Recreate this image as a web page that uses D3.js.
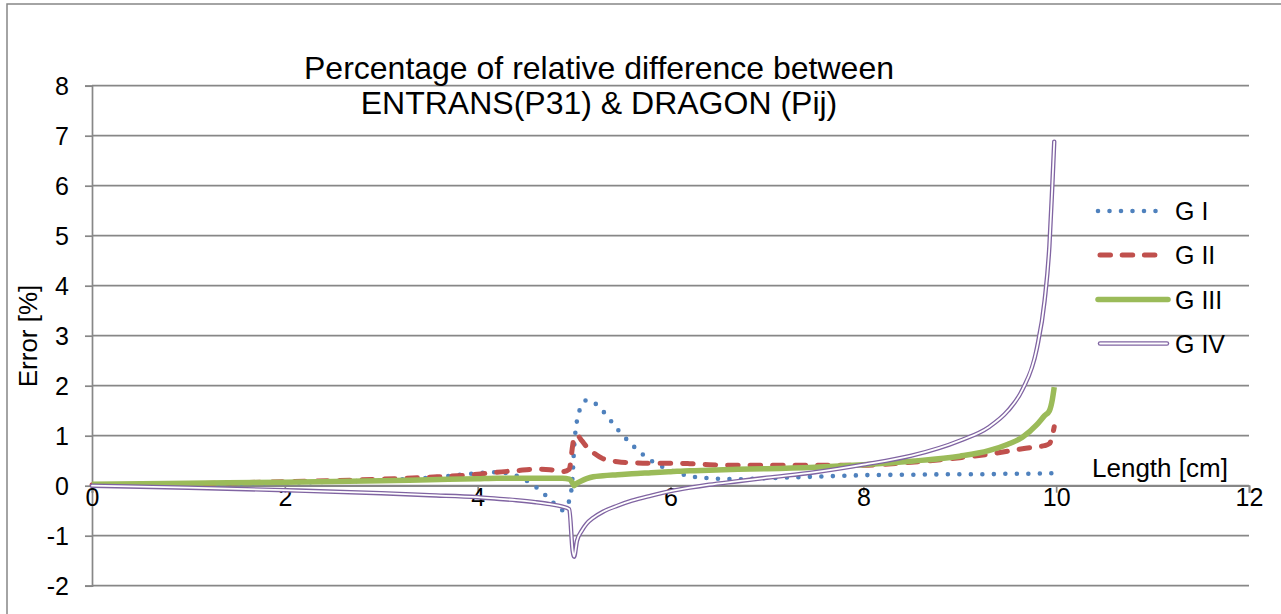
<!DOCTYPE html>
<html>
<head>
<meta charset="utf-8">
<script src="https://cdn.jsdelivr.net/npm/d3@7"></script>
<style>
html,body{margin:0;padding:0;background:#fff;}
svg{display:block;font-family:"Liberation Sans",Arial,sans-serif;}
</style>
</head>
<body>
<svg id="chart" width="1281" height="614"></svg>
<script>
// ---- data ----
const xValues = [0, 1, 2, 3, 3.5, 4, 4.2, 4.4, 4.6, 4.75, 4.88, 4.95, 4.985, 5.0, 5.03, 5.08, 5.13, 5.2, 5.3, 5.45, 5.6, 5.8, 6.0, 6.2, 6.4, 6.7, 7.0, 7.5, 8.0, 8.5, 9.0, 9.3, 9.5, 9.65, 9.8, 9.88, 9.93, 9.96, 9.98];
const gI   = [0.0, 0.03, 0.06, 0.11, 0.16, 0.25, 0.27, 0.2, -0.02, -0.27, -0.49, -0.3, 0.2, 0.75, 1.3, 1.6, 1.71, 1.67, 1.49, 1.13, 0.82, 0.5, 0.31, 0.19, 0.15, 0.13, 0.15, 0.18, 0.21, 0.22, 0.23, 0.23, 0.24, 0.24, 0.24, 0.25, 0.25, 0.25, 0.25];
const gII  = [0.02, 0.04, 0.08, 0.13, 0.17, 0.23, 0.27, 0.3, 0.33, 0.32, 0.28, 0.33, 0.8, 0.97, 1.01, 0.9, 0.78, 0.66, 0.54, 0.48, 0.46, 0.45, 0.45, 0.44, 0.42, 0.41, 0.41, 0.41, 0.41, 0.47, 0.56, 0.63, 0.69, 0.74, 0.78, 0.8, 0.84, 1.0, 1.18];
const gIII = [0.03, 0.05, 0.07, 0.1, 0.12, 0.14, 0.15, 0.15, 0.15, 0.15, 0.15, 0.13, 0.05, 0.0, 0.05, 0.1, 0.14, 0.18, 0.2, 0.22, 0.24, 0.26, 0.28, 0.3, 0.31, 0.33, 0.34, 0.37, 0.42, 0.49, 0.59, 0.7, 0.83, 0.97, 1.22, 1.4, 1.5, 1.72, 1.97];
const gIV  = [0.0, -0.04, -0.09, -0.15, -0.19, -0.23, -0.26, -0.29, -0.33, -0.37, -0.42, -0.47, -1.3, -1.42, -1.1, -0.9, -0.76, -0.64, -0.52, -0.4, -0.3, -0.2, -0.11, -0.04, 0.02, 0.09, 0.16, 0.27, 0.42, 0.6, 0.9, 1.17, 1.5, 1.92, 2.75, 3.7, 4.8, 6.0, 6.88];
const seriesNames = ["G I", "G II", "G III", "G IV"];
const xTicks = [0, 2, 4, 6, 8, 10, 12];
const yTicks = [-2, -1, 0, 1, 2, 3, 4, 5, 6, 7, 8];
const titleLines = ["Percentage of relative difference between", "ENTRANS(P31) & DRAGON (Pij)"];

// ---- drawing ----
const svg = d3.select("#chart");
const grey = "#878787";
const x = d3.scaleLinear().domain([0, 12]).range([92, 1249]);
const y = d3.scaleLinear().domain([-2, 8]).range([585.7, 85.7]);
const fmt = d => String(d); // plain hyphen-minus like the reference

// outer frame
svg.append("rect").attr("x", 7).attr("y", 4).attr("width", 1400).attr("height", 700)
  .attr("fill", "none").attr("stroke", grey).attr("stroke-width", 1.5);

// gridlines
svg.append("g").selectAll("line").data(yTicks).join("line")
  .attr("x1", x(0)).attr("x2", x(12))
  .attr("y1", d => y(d)).attr("y2", d => y(d))
  .attr("stroke", grey).attr("stroke-width", 1.7);

// y axis
const yAxis = svg.append("g").attr("transform", `translate(${x(0)},0)`)
  .call(d3.axisLeft(y).tickValues(yTicks).tickSize(7).tickPadding(0).tickFormat(fmt));
yAxis.select(".domain").attr("stroke", grey).attr("stroke-width", 1.7);
yAxis.selectAll(".tick line").attr("stroke", grey).attr("stroke-width", 1.7);
yAxis.selectAll("text").attr("x", -23).attr("dy", "0.36em")
  .attr("font-size", 25).attr("fill", "#000").attr("font-family", "Liberation Sans, Arial, sans-serif");

// x axis at y=0
const xAxis = svg.append("g").attr("transform", `translate(0,${y(0)})`)
  .call(d3.axisBottom(x).tickValues(xTicks).tickSize(7).tickFormat(fmt));
xAxis.select(".domain").attr("stroke", grey).attr("stroke-width", 1.7);
xAxis.selectAll(".tick line").attr("stroke", grey).attr("stroke-width", 1.7);
xAxis.selectAll("text").attr("y", 20.5).attr("dy", null)
  .attr("font-size", 25).attr("fill", "#000").attr("font-family", "Liberation Sans, Arial, sans-serif");

// series
const line = d3.line().curve(d3.curveMonotoneX);
const mk = vals => line(xValues.map((xv, i) => [x(xv), y(vals[i])]));

svg.append("path").attr("d", mk(gI)).attr("fill", "none")
  .attr("stroke", "#4F81BD").attr("stroke-width", 4.6).attr("stroke-linecap", "round")
  .attr("stroke-dasharray", "0 11.5");
svg.append("path").attr("d", mk(gII)).attr("fill", "none")
  .attr("stroke", "#C0504D").attr("stroke-width", 5).attr("stroke-linecap", "round")
  .attr("stroke-dasharray", "10.5 12");
svg.append("path").attr("d", mk(gIII)).attr("fill", "none")
  .attr("stroke", "#9BBB59").attr("stroke-width", 5.5).attr("stroke-linejoin", "round");
svg.append("path").attr("d", mk(gIV)).attr("fill", "none")
  .attr("stroke", "#8064A2").attr("stroke-width", 4.4).attr("stroke-linecap", "round").attr("stroke-linejoin", "round");
svg.append("path").attr("d", mk(gIV)).attr("fill", "none")
  .attr("stroke", "#fff").attr("stroke-width", 1.8).attr("stroke-linecap", "round").attr("stroke-linejoin", "round");

// legend
const legY = [211, 255, 299.5, 343.5];
const lg = svg.append("g");
lg.append("line").attr("x1", 1098).attr("x2", 1160).attr("y1", legY[0]).attr("y2", legY[0])
  .attr("stroke", "#4F81BD").attr("stroke-width", 4.6).attr("stroke-linecap", "round").attr("stroke-dasharray", "0 11.5");
lg.append("line").attr("x1", 1100).attr("x2", 1158).attr("y1", legY[1]).attr("y2", legY[1])
  .attr("stroke", "#C0504D").attr("stroke-width", 5).attr("stroke-linecap", "round").attr("stroke-dasharray", "10.5 11.7");
lg.append("line").attr("x1", 1098).attr("x2", 1168).attr("y1", legY[2]).attr("y2", legY[2])
  .attr("stroke", "#9BBB59").attr("stroke-width", 5.5).attr("stroke-linecap", "round");
lg.append("line").attr("x1", 1100).attr("x2", 1167).attr("y1", legY[3]).attr("y2", legY[3])
  .attr("stroke", "#8064A2").attr("stroke-width", 4.4).attr("stroke-linecap", "round");
lg.append("line").attr("x1", 1100).attr("x2", 1167).attr("y1", legY[3]).attr("y2", legY[3])
  .attr("stroke", "#fff").attr("stroke-width", 1.8).attr("stroke-linecap", "round");
lg.selectAll("text").data(seriesNames).join("text")
  .attr("x", 1175).attr("y", (d, i) => legY[i] + 9)
  .attr("font-size", 25).attr("fill", "#000").text(d => d);

// titles
svg.append("g").selectAll("text").data(titleLines).join("text")
  .attr("x", 599).attr("y", (d, i) => 79 + i * 35)
  .attr("text-anchor", "middle").attr("font-size", 32).attr("fill", "#000").text(d => d);

svg.append("text").attr("x", 1092).attr("y", 476.5)
  .attr("font-size", 26).attr("fill", "#000").text("Length [cm]");

svg.append("text").attr("transform", "translate(37,336) rotate(-90)")
  .attr("text-anchor", "middle").attr("font-size", 26).attr("fill", "#000").text("Error [%]");
</script>
</body>
</html>
